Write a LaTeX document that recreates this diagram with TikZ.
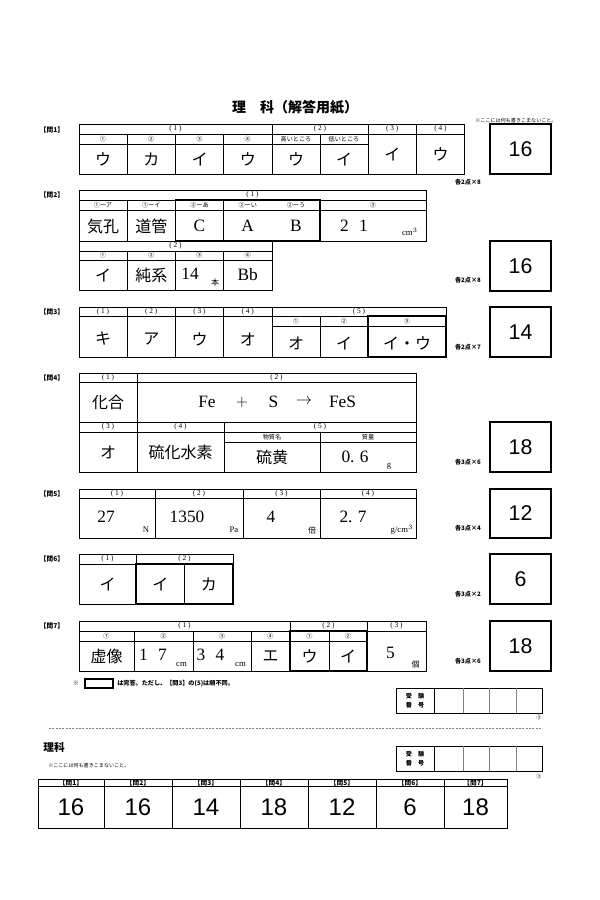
\documentclass[tikz,border=0pt]{standalone}
\usepackage{fontspec}
\setmainfont{Liberation Serif}
\newfontfamily\jp{Noto Sans CJK JP}
\newfontfamily\arial{Liberation Sans}
\usepackage{tikz}
\tikzstyle{cell}=[line width=.6pt]
\tikzstyle{fullbox}=[line width=1.4pt]
\tikzstyle{scorebox}=[line width=.8pt]
\tikzstyle{cut}=[line width=.4pt, gray, dash pattern=on 1.5pt off 1pt]
\tikzstyle{hd}=[inner sep=0pt, font=\fontsize{5.5}{6}\selectfont]
\tikzstyle{hdj}=[inner sep=0pt, font=\jp\fontsize{4.6}{5}\selectfont]
\tikzstyle{ja}=[inner sep=0pt, font=\jp\fontsize{12}{12}\selectfont]
\tikzstyle{la}=[inner sep=0pt, font=\fontsize{13}{13}\selectfont]
\tikzstyle{un}=[inner sep=0pt, font=\fontsize{6.5}{7}\selectfont]
\tikzstyle{unj}=[inner sep=0pt, font=\jp\fontsize{6}{7}\selectfont]
\tikzstyle{ql}=[inner sep=0pt, font=\jp\bfseries\fontsize{5}{6}\selectfont]
\tikzstyle{pts}=[inner sep=0pt, font=\jp\bfseries\fontsize{4.6}{5}\selectfont]
\tikzstyle{note}=[inner sep=0pt, font=\jp\fontsize{3.8}{4}\selectfont]
\tikzstyle{sc}=[inner sep=0pt, font=\arial\fontsize{16}{16}\selectfont]
\tikzstyle{scbig}=[inner sep=0pt, font=\arial\fontsize{18}{18}\selectfont]

\begin{document}
\begin{tikzpicture}[x=.75pt, y=-.75pt]
	\useasboundingbox[fill=white] (0,0) rectangle (600,900);
	\node[inner sep=0pt, font=\jp\bfseries\fontsize{10.5}{11}\selectfont] (title) at (295,107) {理　科（解答用紙）};
	\node[note] (nowrite) at (516,121) {※ここには何も書きこまないこと。};
	\node[ql] (q1) at (52,129.5) {【問1】};
	\draw[cell] (79,124) rectangle (464.5,174);
	\draw[cell] (79,134) -- (464.5,134);
	\draw[cell] (79,144) -- (368,144);
	\draw[cell] (272,124) -- (272,174);
	\draw[cell] (368,124) -- (368,174);
	\draw[cell] (416.5,124) -- (416.5,174);
	\draw[cell] (127,134) -- (127,174);
	\draw[cell] (175.5,134) -- (175.5,174);
	\draw[cell] (223.5,134) -- (223.5,174);
	\draw[cell] (320,134) -- (320,174);
	\node[hd] (q1h1) at (175.5,129) {( 1 )};
	\node[hd] (q1h2) at (320,129) {( 2 )};
	\node[hd] (q1h3) at (392.25,129) {( 3 )};
	\node[hd] (q1h4) at (440.5,129) {( 4 )};
	\node[hdj] (q1s1) at (103,139) {①};
	\node[hdj] (q1s2) at (151.25,139) {②};
	\node[hdj] (q1s3) at (199.5,139) {③};
	\node[hdj] (q1s4) at (247.75,139) {④};
	\node[hdj] (q1s5) at (296,139) {高いところ};
	\node[hdj] (q1s6) at (344,139) {低いところ};
	\node[ja] (q1a1) at (103,159) {ウ};
	\node[ja] (q1a2) at (151.25,159) {カ};
	\node[ja] (q1a3) at (199.5,159) {イ};
	\node[ja] (q1a4) at (247.75,159) {ウ};
	\node[ja] (q1a5) at (296,159) {ウ};
	\node[ja] (q1a6) at (344,159) {イ};
	\node[ja] (q1a7) at (392.25,154) {イ};
	\node[ja] (q1a8) at (440.5,154) {ウ};
	\draw[scorebox] (490,124) rectangle (551,174);
	\node[sc] (s1) at (520.5,149) {16};
	\node[pts] (p1) at (468,182) {各2点×8};
	\node[ql] (q2) at (52,195) {【問2】};
	\draw[cell] (79,190) rectangle (426,241);
	\draw[cell] (79,200) -- (426,200);
	\draw[cell] (79,210) -- (426,210);
	\draw[cell] (127,200) -- (127,241);
	\draw[cell] (223.5,200) -- (223.5,241);
	\draw[cell] (79,241) rectangle (272,290);
	\draw[cell] (79,251) -- (272,251);
	\draw[cell] (79,260) -- (272,260);
	\draw[cell] (127,251) -- (127,290);
	\draw[cell] (175.5,251) -- (175.5,290);
	\draw[cell] (223.5,251) -- (223.5,290);
	\draw[fullbox] (175.5,200) rectangle (320,241);
	\node[hd] (q2h1) at (252.5,195) {( 1 )};
	\node[hdj] (q2s1) at (103,205) {①ーア};
	\node[hdj] (q2s2) at (151.25,205) {①ーイ};
	\node[hdj] (q2s3) at (199.5,205) {②ーあ};
	\node[hdj] (q2s4) at (247.75,205) {②ーい};
	\node[hdj] (q2s5) at (296,205) {②ーう};
	\node[hdj] (q2s6) at (373,205) {③};
	\node[ja] (q2a1) at (103,226) {気孔};
	\node[ja] (q2a2) at (151.25,226) {道管};
	\node[la] (q2a3) at (199.5,226) {C};
	\node[la] (q2a4) at (247.75,226) {A};
	\node[la] (q2a5) at (296,226) {B};
	\node[la] (q2a6) at (354,226) {2\hspace{.6em}1};
	\node[un] (q2u6) at (410,232) {cm$^3$};
	\node[hd] (q2h2) at (175.5,246) {( 2 )};
	\node[hdj] (q2t1) at (103,255.5) {①};
	\node[hdj] (q2t2) at (151.25,255.5) {②};
	\node[hdj] (q2t3) at (199.5,255.5) {③};
	\node[hdj] (q2t4) at (247.75,255.5) {④};
	\node[ja] (q2b1) at (103,275) {イ};
	\node[ja] (q2b2) at (151.25,275) {純系};
	\node[la] (q2b3) at (190,274) {14};
	\node[unj] (q2v3) at (215,282) {本};
	\node[la] (q2b4) at (247.75,275) {Bb};
	\draw[scorebox] (490,241) rectangle (551,291);
	\node[sc] (s2) at (520.5,266) {16};
	\node[pts] (p2) at (468,280) {各2点×8};
	\node[ql] (q3) at (52,311.5) {【問3】};
	\draw[cell] (79,307) rectangle (446,357);
	\draw[cell] (79,316) -- (446,316);
	\draw[cell] (272,326) -- (446,326);
	\draw[cell] (127,307) -- (127,357);
	\draw[cell] (175.5,307) -- (175.5,357);
	\draw[cell] (223.5,307) -- (223.5,357);
	\draw[cell] (272,307) -- (272,357);
	\draw[cell] (320,316) -- (320,357);
	\draw[fullbox] (368,316) rectangle (446,357);
	\node[hd] (q3h1) at (103,311.5) {( 1 )};
	\node[hd] (q3h2) at (151.25,311.5) {( 2 )};
	\node[hd] (q3h3) at (199.5,311.5) {( 3 )};
	\node[hd] (q3h4) at (247.75,311.5) {( 4 )};
	\node[hd] (q3h5) at (359,311.5) {( 5 )};
	\node[hdj] (q3s1) at (296,321) {①};
	\node[hdj] (q3s2) at (344,321) {②};
	\node[hdj] (q3s3) at (407,321) {③};
	\node[ja] (q3a1) at (103,339) {キ};
	\node[ja] (q3a2) at (151.25,339) {ア};
	\node[ja] (q3a3) at (199.5,339) {ウ};
	\node[ja] (q3a4) at (247.75,339) {オ};
	\node[ja] (q3a5) at (296,343) {オ};
	\node[ja] (q3a6) at (344,343) {イ};
	\node[ja] (q3a7) at (407,343) {イ・ウ};
	\draw[scorebox] (490,307) rectangle (551,357);
	\node[sc] (s3) at (520.5,332) {14};
	\node[pts] (p3) at (468,347) {各2点×7};
	\node[ql] (q4) at (52,377.5) {【問4】};
	\draw[cell] (79,373) rectangle (416,472);
	\draw[cell] (79,382) -- (416,382);
	\draw[cell] (79,422) -- (416,422);
	\draw[cell] (79,432) -- (416,432);
	\draw[cell] (224,442) -- (416,442);
	\draw[cell] (137,373) -- (137,472);
	\draw[cell] (224,422) -- (224,472);
	\draw[cell] (320,432) -- (320,472);
	\node[hd] (q4h1) at (108,377.5) {( 1 )};
	\node[hd] (q4h2) at (276.5,377.5) {( 2 )};
	\node[ja] (q4a1) at (108,402) {化合};
	\node[la] (fe) at (207,402) {Fe};
	\node[la] (plus) at (242,402) {$+$};
	\node[la] (sulf) at (273.5,402) {S};
	\node[la] (yield) at (304,402) {$\rightarrow$};
	\node[la] (fes) at (342.5,402) {FeS};
	\node[hd] (q4h3) at (108,427) {( 3 )};
	\node[hd] (q4h4) at (180.5,427) {( 4 )};
	\node[hd] (q4h5) at (320,427) {( 5 )};
	\node[hdj] (q4s1) at (272,437) {物質名};
	\node[hdj] (q4s2) at (368,437) {質量};
	\node[ja] (q4a3) at (108,452) {オ};
	\node[ja] (q4a4) at (180.5,452) {硫化水素};
	\node[ja] (q4a5) at (272,457) {硫黄};
	\node[la] (q4a6) at (355,457) {0.\hspace{.3em}6};
	\node[un] (q4u6) at (389,466) {g};
	\draw[scorebox] (490,422) rectangle (551,472);
	\node[sc] (s4) at (520.5,447) {18};
	\node[pts] (p4) at (468,462) {各3点×6};
	\node[ql] (q5) at (52,493.5) {【問5】};
	\draw[cell] (79,489) rectangle (416,538);
	\draw[cell] (79,498) -- (416,498);
	\draw[cell] (155,489) -- (155,538);
	\draw[cell] (243,489) -- (243,538);
	\draw[cell] (320,489) -- (320,538);
	\node[hd] (q5h1) at (117,493.5) {( 1 )};
	\node[hd] (q5h2) at (199,493.5) {( 2 )};
	\node[hd] (q5h3) at (281.5,493.5) {( 3 )};
	\node[hd] (q5h4) at (368,493.5) {( 4 )};
	\node[la] (q5a1) at (106,517) {27};
	\node[un] (q5u1) at (146,530) {N};
	\node[la] (q5a2) at (187,517) {1350};
	\node[un] (q5u2) at (234,530) {Pa};
	\node[la] (q5a3) at (271,517) {4};
	\node[unj] (q5u3) at (312,530) {倍};
	\node[la] (q5a4) at (353,517) {2.\hspace{.3em}7};
	\node[un] (q5u4) at (402,530) {g/cm$^3$};
	\draw[scorebox] (490,489) rectangle (551,538);
	\node[sc] (s5) at (520.5,513.5) {12};
	\node[pts] (p5) at (468,528) {各3点×4};
	\node[ql] (q6) at (52,559) {【問6】};
	\draw[cell] (79,554) rectangle (233,604);
	\draw[cell] (79,564) -- (233,564);
	\draw[cell] (136,554) -- (136,604);
	\draw[cell] (184.5,564) -- (184.5,604);
	\draw[fullbox] (136,564) rectangle (233,604);
	\node[hd] (q6h1) at (107.5,559) {( 1 )};
	\node[hd] (q6h2) at (184.5,559) {( 2 )};
	\node[ja] (q6a1) at (107.5,584) {イ};
	\node[ja] (q6a2) at (160.25,584) {イ};
	\node[ja] (q6a3) at (208.75,584) {カ};
	\draw[scorebox] (490,554) rectangle (551,604);
	\node[sc] (s6) at (520.5,579) {6};
	\node[pts] (p6) at (468,594) {各3点×2};
	\node[ql] (q7) at (52,626) {【問7】};
	\draw[cell] (79,621) rectangle (426,671);
	\draw[cell] (79,631) -- (426,631);
	\draw[cell] (79,641) -- (367,641);
	\draw[cell] (290,621) -- (290,671);
	\draw[cell] (367,621) -- (367,671);
	\draw[cell] (134,631) -- (134,671);
	\draw[cell] (193,631) -- (193,671);
	\draw[cell] (251,631) -- (251,671);
	\draw[cell] (329,631) -- (329,671);
	\draw[fullbox] (290,631) rectangle (367,671);
	\node[hd] (q7h1) at (184.5,626) {( 1 )};
	\node[hd] (q7h2) at (328.5,626) {( 2 )};
	\node[hd] (q7h3) at (396.5,626) {( 3 )};
	\node[hdj] (q7s1) at (106.5,636) {①};
	\node[hdj] (q7s2) at (163.5,636) {②};
	\node[hdj] (q7s3) at (222,636) {③};
	\node[hdj] (q7s4) at (270.5,636) {④};
	\node[hdj] (q7s5) at (309.5,636) {①};
	\node[hdj] (q7s6) at (348,636) {②};
	\node[ja] (q7a1) at (106.5,656) {虚像};
	\node[la] (q7a2) at (153,655) {1\hspace{.6em}7};
	\node[un] (q7u2) at (181.5,664) {cm};
	\node[la] (q7a3) at (210.5,655) {3\hspace{.6em}4};
	\node[un] (q7u3) at (240.5,664) {cm};
	\node[ja] (q7a4) at (270.5,656) {エ};
	\node[ja] (q7a5) at (309.5,656) {ウ};
	\node[ja] (q7a6) at (348,656) {イ};
	\node[la] (q7a7) at (390.5,653) {5};
	\node[unj] (q7u7) at (415.5,664) {個};
	\draw[scorebox] (490,621) rectangle (551,671);
	\node[sc] (s7) at (520.5,646) {18};
	\node[pts] (p7) at (468,661) {各3点×6};
	\node[pts] (mark) at (76,683.5) {※};
	\draw[fullbox] (85,679) rectangle (113,688);
	\node[pts, anchor=west] (rule) at (117,683.5) {は完答。ただし、【問3】の(5)は順不同。};
	\draw[cell] (396,688) rectangle (542,713);
	\draw[cell] (434,688) -- (434,713);
	\draw[cell, gray] (463.5,688) -- (463.5,713);
	\draw[cell, gray] (489.5,688) -- (489.5,713);
	\draw[cell, gray] (516,688) -- (516,713);
	\node[pts] (id1a) at (415,696) {受　験};
	\node[pts] (id1b) at (415,705) {番　号};
	\node[note] (c1) at (539,718) {③};
	\draw[cut] (49,728) -- (541,728);
	\node[inner sep=0pt, font=\jp\bfseries\fontsize{8}{8}\selectfont] (rika) at (54,747) {理科};
	\node[note, anchor=west] (nowrite2) at (48,766) {※ここには何も書きこまないこと。};
	\draw[cell] (396,746) rectangle (542,771);
	\draw[cell] (434,746) -- (434,771);
	\draw[cell, gray] (463.5,746) -- (463.5,771);
	\draw[cell, gray] (489.5,746) -- (489.5,771);
	\draw[cell, gray] (516,746) -- (516,771);
	\node[pts] (id2a) at (415,754) {受　験};
	\node[pts] (id2b) at (415,763) {番　号};
	\node[note] (c2) at (539,777) {③};
	\draw[cell] (38,779) rectangle (507,828);
	\draw[cell] (38,786) -- (507,786);
	\draw[cell] (104,779) -- (104,828);
	\draw[cell] (172,779) -- (172,828);
	\draw[cell] (240,779) -- (240,828);
	\draw[cell] (308,779) -- (308,828);
	\draw[cell] (376,779) -- (376,828);
	\draw[cell] (444,779) -- (444,828);
	\node[ql] (t1) at (71,782.5) {【問1】};
	\node[ql] (t2) at (138,782.5) {【問2】};
	\node[ql] (t3) at (206,782.5) {【問3】};
	\node[ql] (t4) at (274,782.5) {【問4】};
	\node[ql] (t5) at (342,782.5) {【問5】};
	\node[ql] (t6) at (410,782.5) {【問6】};
	\node[ql] (t7) at (475.5,782.5) {【問7】};
	\node[scbig] (u1) at (71,807) {16};
	\node[scbig] (u2) at (138,807) {16};
	\node[scbig] (u3) at (206,807) {14};
	\node[scbig] (u4) at (274,807) {18};
	\node[scbig] (u5) at (342,807) {12};
	\node[scbig] (u6) at (410,807) {6};
	\node[scbig] (u7) at (475.5,807) {18};
\end{tikzpicture}
\end{document}
